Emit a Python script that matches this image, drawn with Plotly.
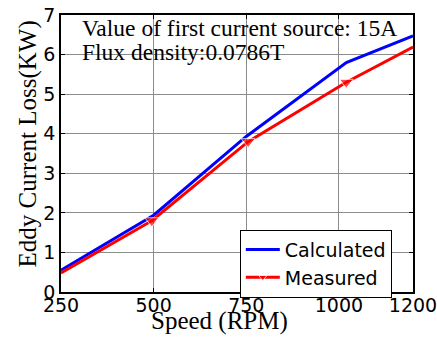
import plotly.graph_objects as go

calc_speed = [250, 500, 750, 1020, 1200]
calc_loss = [0.55, 1.94, 3.93, 5.80, 6.47]
meas_speed = [250, 495, 755, 1020, 1200]
meas_loss = [0.48, 1.80, 3.80, 5.30, 6.19]
x_ticks = [250, 500, 750, 1000, 1200]
y_ticks = [0, 1, 2, 3, 4, 5, 6, 7]

fig = go.Figure()
fig.add_trace(go.Scatter(x=calc_speed, y=calc_loss, mode="lines", name="Calculated",
                         line=dict(color="#0000FF", width=3)))
fig.add_trace(go.Scatter(x=meas_speed, y=meas_loss, mode="lines+markers", name="Measured",
                         line=dict(color="#FF0000", width=3),
                         marker=dict(symbol="triangle-down", size=[0, 12, 12, 12, 0], color="#FF0000")))

serif = "Liberation Serif"
sans = "DejaVu Sans"
fig.add_annotation(x=0.055, xref="paper", y=6.66, yref="y", xanchor="left", yanchor="middle",
                   text="Value of first current source: 15A", showarrow=False,
                   font=dict(family=serif, size=23.5, color="black"))
fig.add_annotation(x=0.055, xref="paper", y=6.06, yref="y", xanchor="left", yanchor="middle",
                   text="Flux density:0.0786T", showarrow=False,
                   font=dict(family=serif, size=23.5, color="black"))
fig.add_annotation(x=0.449, xref="paper", y=-0.106, yref="paper", xanchor="center", yanchor="middle",
                   text="Speed (RPM)", showarrow=False,
                   font=dict(family=serif, size=25, color="black"))
fig.add_annotation(x=-0.094, xref="paper", y=0.536, yref="paper", xanchor="center", yanchor="middle",
                   text="Eddy Current Loss(KW)", showarrow=False, textangle=-90,
                   font=dict(family=serif, size=25, color="black"))

fig.update_layout(
    width=437, height=338,
    margin=dict(l=61, r=24, t=15, b=46, autoexpand=False),
    paper_bgcolor="white", plot_bgcolor="white",
    showlegend=True,
    legend=dict(x=0.508, y=0.225, xanchor="left", yanchor="top",
                bgcolor="white", bordercolor="black", borderwidth=1,
                font=dict(family=sans, size=19, color="black"),
                tracegroupgap=0, itemwidth=34),
)
fig.update_xaxes(range=[250, 1200], tickvals=x_ticks, ticktext=[str(v) for v in x_ticks],
                 automargin=False, ticklabeloverflow="allow",
                 showgrid=True, gridcolor="#8c8c8c", gridwidth=1,
                 showline=True, linecolor="black", linewidth=1.5, mirror="ticks",
                 ticks="inside", ticklen=4, tickcolor="black", ticklabelstandoff=-5,
                 tickfont=dict(family=sans, size=19, color="black"),
                 zeroline=False)
fig.update_yaxes(range=[0, 7], tickvals=y_ticks, automargin=False, ticklabeloverflow="allow",
                 showgrid=True, gridcolor="#8c8c8c", gridwidth=1,
                 showline=True, linecolor="black", linewidth=1.5, mirror="ticks",
                 ticks="inside", ticklen=4, tickcolor="black",
                 tickfont=dict(family=sans, size=19, color="black"),
                 zeroline=False)

fig.write_html("out.html", config={"displayModeBar": False},
               post_script="document.body.style.margin='0';document.body.style.overflow='hidden';")
